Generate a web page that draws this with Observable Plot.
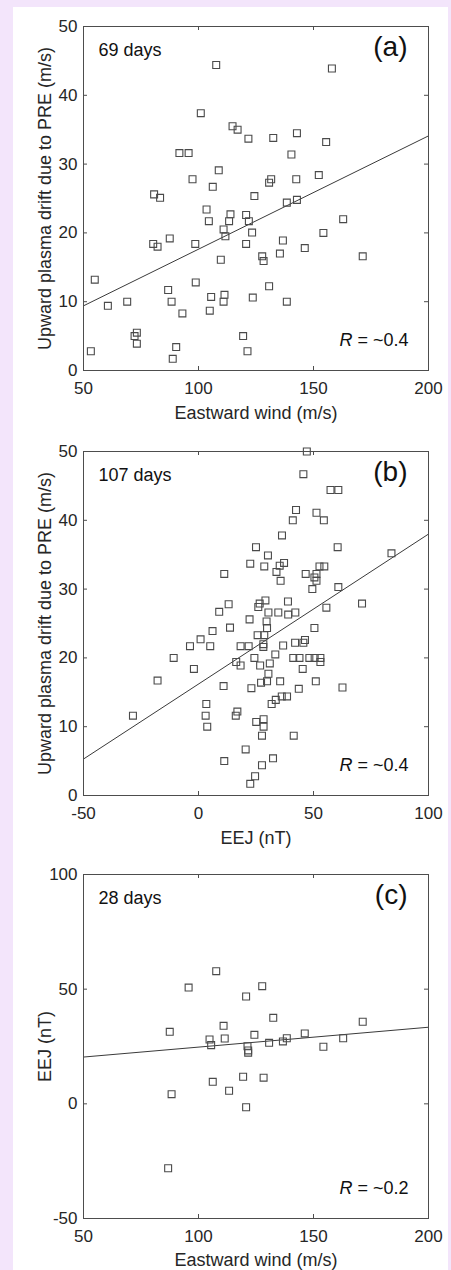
<!DOCTYPE html>
<html>
<head>
<meta charset="utf-8">
<script src="https://cdn.jsdelivr.net/npm/d3@7"></script>
<script src="https://cdn.jsdelivr.net/npm/@observablehq/plot@0.6"></script>
<style>
  html, body { margin: 0; padding: 0; background: #f3e5fb; }
  body { width: 451px; height: 1270px; position: relative; overflow: hidden; font-family: "Liberation Sans", Arial, sans-serif; }
  #card { position: absolute; left: 13px; top: 7px; width: 435px; height: 1270px; background: #ffffff; }
  .panel { position: absolute; left: 0; }
  .panel svg { display: block; }
</style>
</head>
<body>
<div id="card"></div>
<div id="pa" class="panel" style="top:0px"></div>
<div id="pb" class="panel" style="top:425px"></div>
<div id="pc" class="panel" style="top:848px"></div>
<script>
// Panel (a): eastward wind (m/s) vs upward plasma drift (m/s)
const windA = [107.7,158,101,114.8,117,121.7,132.5,142.8,155.5,91.7,95.7,140.4,108.8,97.4,131.6,130.7,142.5,152.3,106.2,80.7,83.3,124.3,138.4,142.8,
  103.5,104.5,113.9,113.3,120.7,121.9,110.9,111.7,123.3,162.9,154.3,80.3,82.2,87.5,98.6,120.7,136.7,146.2,135.4,127.7,128.3,171.4,109.7,
  54.9,98.8,86.8,130.7,105.5,111.3,110.9,123.6,138.4,69.0,88.3,60.6,104.9,93.0,72.2,73.2,73.2,90.3,53.2,121.3,119.4,88.8];
const driftA = [44.4,43.9,37.4,35.5,35.0,33.7,33.8,34.5,33.2,31.6,31.6,31.4,29.1,27.8,27.8,27.3,27.8,28.4,26.7,25.6,25.1,25.35,24.4,24.8,
  23.4,21.7,22.7,21.7,22.6,21.7,20.5,19.5,20.05,22.0,20.0,18.4,18.0,19.2,18.4,18.4,18.9,17.8,17.0,16.6,15.9,16.6,16.1,
  13.2,12.8,11.7,12.25,10.7,11.0,10.0,10.6,10.0,10.0,10.0,9.4,8.7,8.3,5.0,5.5,3.9,3.4,2.8,2.8,5.0,1.7];
const fitA_x = [50, 200];
const fitA_y = [9.4, 34.1];

// Panel (b): EEJ (nT) vs upward plasma drift (m/s)
const eejB = [47.1,45.6,57.4,60.8,42.4,41.0,51.3,54.5,36.3,25.0,60.5,83.9,30.2,22.5,28.6,35.3,37.2,52.6,54.7,33.9,11.2,46.6,51.3,50.4,51.3,35.7,49.5,60.8,
  13.1,9.0,29.1,26.6,26.0,38.9,55.6,71.1,30.4,34.7,39.0,42.1,22.2,29.6,
  6.1,13.7,25.7,28.6,29.8,50.4,0.9,-3.7,5.1,18.3,21.8,28.2,28.2,36.8,42.0,45.6,46.3,
  -10.8,24.3,33.4,41.2,43.9,48.2,50.5,53.0,53.0,16.4,18.3,26.8,31.0,-2.0,45.3,30.4,
  -17.8,10.9,23.0,27.2,29.8,35.5,51.0,62.6,43.6,33.6,31.8,36.2,38.5,3.4,
  -28.5,3.1,3.8,16.2,16.9,25.1,28.3,28.3,27.6,41.4,20.5,11.2,32.4,27.6,24.6,22.5];
const driftB = [50.0,46.7,44.4,44.4,41.5,40.0,41.1,40.0,37.8,36.1,36.1,35.2,34.9,33.7,33.3,33.4,33.8,33.3,33.3,32.5,32.2,32.2,32.2,31.7,31.2,31.2,30.0,30.3,
  27.8,26.7,28.35,27.9,27.4,28.2,27.3,27.9,26.6,26.6,26.3,26.6,25.6,25.3,
  23.9,24.4,23.3,23.3,24.35,24.35,22.7,21.7,21.7,21.7,21.7,22.0,21.6,21.8,22.2,22.2,22.6,
  20.0,20.0,20.5,20.0,20.0,20.0,20.0,20.0,19.4,19.4,18.9,18.9,19.2,18.4,18.4,17.7,
  16.7,15.9,15.6,16.4,16.6,16.6,16.6,15.7,15.5,13.9,13.3,14.4,14.4,13.3,
  11.6,11.6,10.0,11.6,12.2,10.7,11.1,10.0,8.7,8.7,6.7,5.0,5.4,4.4,2.8,1.7];
const fitB_x = [-50, 100];
const fitB_y = [5.3, 38.0];

// Panel (c): eastward wind (m/s) vs EEJ (nT)
const windC = [107.7,95.7,127.7,120.7,132.5,110.9,171.4,87.5,124.3,146.2,104.8,111.4,138.4,136.7,130.7,162.9,105.5,121.3,154.3,121.6,121.6,
  106.2,119.4,128.3,113.3,88.3,120.7,86.8];
const eejC = [57.85,50.7,51.3,46.8,37.5,34.0,35.8,31.4,30.1,30.7,28.05,28.5,28.6,27.2,26.6,28.6,25.6,25.1,24.9,23.3,22.3,
  9.6,11.8,11.4,5.7,4.2,-1.5,-28.1];
const fitC_x = [50, 200];
const fitC_y = [20.4, 33.4];

// Axis ticks and labels
const xTicksA = [50, 100, 150, 200];
const yTicksA = [0, 10, 20, 30, 40, 50];
const xTicksB = [-50, 0, 50, 100];
const yTicksB = [0, 10, 20, 30, 40, 50];
const xTicksC = [50, 100, 150, 200];
const yTicksC = [-50, 0, 50, 100];

const panels = [
  {id: "pa", xs: windA, ys: driftA, fx: fitA_x, fy: fitA_y, xd: [50, 200], yd: [0, 50], xt: xTicksA, yt: yTicksA,
   xl: "Eastward wind (m/s)", yl: "Upward plasma drift due to PRE (m/s)", days: "69 days", tag: "(a)", r: "~0.4", mb: 60, xlo: 43},
  {id: "pb", xs: eejB, ys: driftB, fx: fitB_x, fy: fitB_y, xd: [-50, 100], yd: [0, 50], xt: xTicksB, yt: yTicksB,
   xl: "EEJ (nT)", yl: "Upward plasma drift due to PRE (m/s)", days: "107 days", tag: "(b)", r: "~0.4", mb: 60, xlo: 43},
  {id: "pc", xs: windC, ys: eejC, fx: fitC_x, fy: fitC_y, xd: [50, 200], yd: [-50, 100], xt: xTicksC, yt: yTicksC,
   xl: "Eastward wind (m/s)", yl: "EEJ (nT)", days: "28 days", tag: "(c)", r: "~0.2", mb: 52, xlo: 42}
];

const ink = "#262626";
const axisInk = "#4d4d4d";
const FONT = "Liberation Sans, Arial, sans-serif";
const fmt = d => String(d); // hyphen-minus like the original

for (const p of panels) {
  const mt = 26, plotH = 344, plotW = 345;
  const H = mt + plotH + p.mb;
  const pts = p.xs.map((x, i) => ({x, y: p.ys[i]}));
  const fit = p.fx.map((x, i) => ({x, y: p.fy[i]}));
  const tk = 4;
  const chart = Plot.plot({
    width: 451,
    height: H,
    marginLeft: 83,
    marginRight: 23,
    marginTop: mt,
    marginBottom: p.mb,
    style: {background: "transparent", fontFamily: FONT, color: ink, overflow: "visible"},
    x: {domain: p.xd, ticks: p.xt},
    y: {domain: p.yd, ticks: p.yt},
    marks: [
      Plot.axisX(p.xt, {anchor: "bottom", tickSize: 0, tickPadding: 11, fontSize: 17, color: ink, tickFormat: fmt, label: null}),
      Plot.axisY(p.yt, {anchor: "left", tickSize: 0, tickPadding: 6, fontSize: 17, color: ink, tickFormat: fmt, label: null}),
      Plot.text([p.xl], {text: d => d, frameAnchor: "bottom", dy: p.xlo, lineAnchor: "middle", textAnchor: "middle", fontSize: 18, fill: ink}),
      Plot.text([p.yl], {text: d => d, frameAnchor: "left", dx: -38, rotate: -90, lineAnchor: "middle", textAnchor: "middle", fontSize: 18, fill: ink}),
      Plot.tickX(p.xt, {x: d => d, insetTop: plotH - tk, stroke: axisInk}),
      Plot.tickX(p.xt, {x: d => d, insetBottom: plotH - tk, stroke: axisInk}),
      Plot.tickY(p.yt, {y: d => d, insetRight: plotW - tk, stroke: axisInk}),
      Plot.tickY(p.yt, {y: d => d, insetLeft: plotW - tk, stroke: axisInk}),
      Plot.line(fit, {x: "x", y: "y", stroke: "#3a3a3a", strokeWidth: 1}),
      Plot.dot(pts, {x: "x", y: "y", symbol: "square", r: 3.9, stroke: "#4a4a4a", strokeWidth: 1.1, fill: "none"}),
      Plot.frame({stroke: axisInk, strokeWidth: 1}),
      Plot.text([p.days], {text: d => d, frameAnchor: "top-left", dx: 15, dy: 24, lineAnchor: "middle", textAnchor: "start", fontSize: 18, fill: "#111"}),
      Plot.text([p.tag], {text: d => d, frameAnchor: "top-right", dx: -21, dy: 21, lineAnchor: "middle", textAnchor: "end", fontSize: 28, fill: "#111"}),
      Plot.text([p.r], {text: d => "R = " + d, frameAnchor: "bottom-right", dx: -20, dy: -30, lineAnchor: "middle", textAnchor: "end", fontSize: 18, fill: "#111"})
    ]
  });
  document.getElementById(p.id).appendChild(chart);
}

// Italicise the "R" in each "R = ~0.x" label
document.querySelectorAll(".panel svg text").forEach((t) => {
  const s = t.textContent;
  if (/^R = ~/.test(s)) {
    t.textContent = "";
    const t1 = document.createElementNS("http://www.w3.org/2000/svg", "tspan");
    t1.setAttribute("font-style", "italic");
    t1.textContent = "R";
    const t2 = document.createElementNS("http://www.w3.org/2000/svg", "tspan");
    t2.textContent = s.slice(1);
    t.appendChild(t1);
    t.appendChild(t2);
  }
});
</script>
</body>
</html>
